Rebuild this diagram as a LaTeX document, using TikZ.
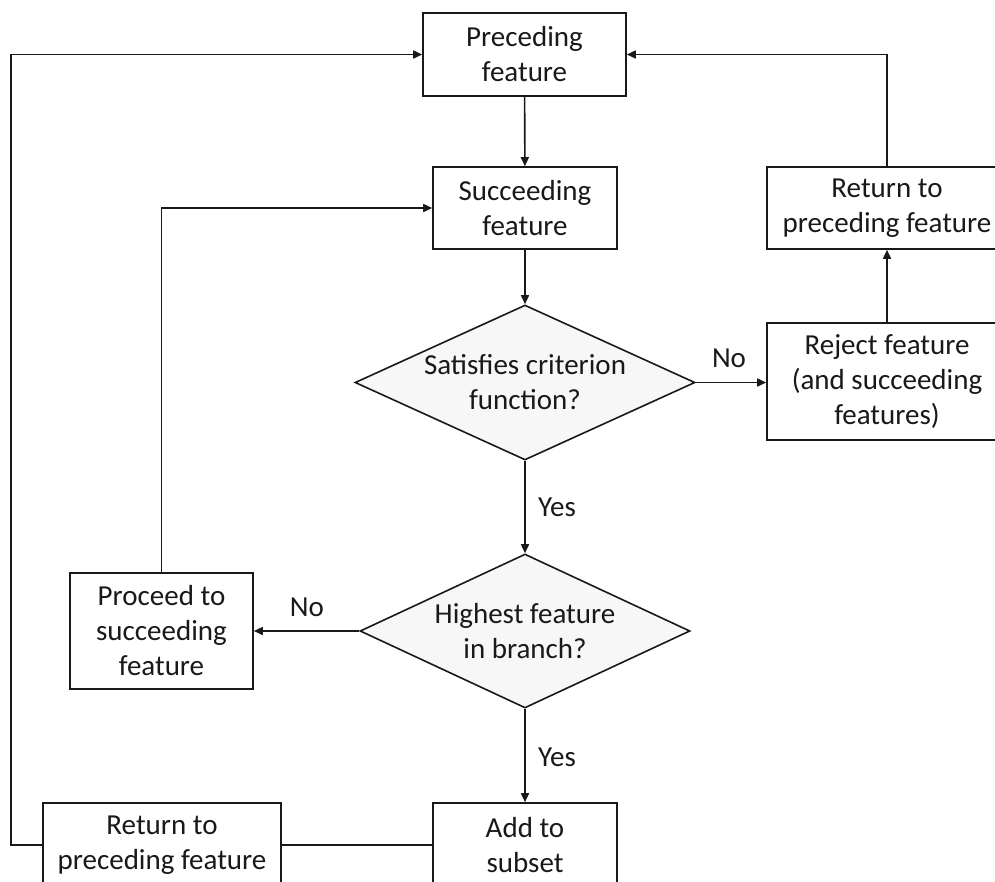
\documentclass[tikz,border=0pt]{standalone}
\usepackage{fontspec}
\setmainfont{Carlito}
\usetikzlibrary{shapes.geometric,arrows.meta}
\begin{document}
\begin{tikzpicture}[x=1pt,y=-1pt,
  txt/.style={font=\fontsize{29}{35}\selectfont, align=center, text=black!90},
  box/.style={txt, draw=black!90, line width=1.6pt, inner sep=0pt, fill=white},
  dia/.style={diamond, draw=black!90, fill=gray!6, line width=1.6pt, inner sep=0pt},
  arr/.style={draw=black!90, line width=1.6pt, -{Triangle[length=9pt,width=8pt]}},
  link/.style={draw=black!90, line width=1.6pt}]
\useasboundingbox (0,0) rectangle (995,881);
\clip (0,0) rectangle (995,881);

% process boxes
\node[box, minimum width=203, minimum height=83] (prec) at (524.5,54.5) {Preceding\\feature};
\node[box, minimum width=184, minimum height=82] (succ) at (525,208) {Succeeding\\feature};
\node[box, minimum width=240, minimum height=82] (retr) at (887,208) {Return to\\preceding feature};
\node[box, minimum width=240, minimum height=117] (rej) at (887,381.5) {Reject feature\\(and succeeding\\features)};
\node[box, minimum width=183, minimum height=116] (proc) at (161.5,631) {Proceed to\\succeeding\\feature};
\node[box, minimum width=184, minimum height=84] (add) at (525,845) {Add to\\subset};
\node[box, minimum width=238, minimum height=84] (retl) at (162,845) {Return to\\preceding feature};

% decisions
\node[dia, minimum width=340, minimum height=155,
      label={[txt]center:{Satisfies criterion\\function?}}] (crit) at (525,382.5) {};
\node[dia, minimum width=330, minimum height=154,
      label={[txt]center:{Highest feature\\in branch?}}] (high) at (525,631) {};

% branch labels
\node[txt] (no1) at (729,358) {No};
\node[txt] (yes1) at (557,507) {Yes};
\node[txt] (no2) at (307,607) {No};
\node[txt] (yes2) at (557,757) {Yes};

% connectors
\coordinate (lft) at (11,845);
\draw[arr] (prec) -- (succ);
\draw[arr] (succ) -- (crit);
\draw[arr] (crit.east) -- (crit.east -| rej.west);
\draw[arr] (rej) -- (retr);
\draw[arr] (retr.north) |- (prec.east);
\draw[arr] (crit) -- (high);
\draw[arr] (high.west) -- (high.west -| proc.east);
\draw[arr] (proc.north) |- (succ.west);
\draw[arr] (high) -- (add);
\draw[link] (add.west) -- (add.west -| retl.east);
\draw[arr] (retl.west) -- (lft) |- (prec.west);
\end{tikzpicture}
\end{document}
